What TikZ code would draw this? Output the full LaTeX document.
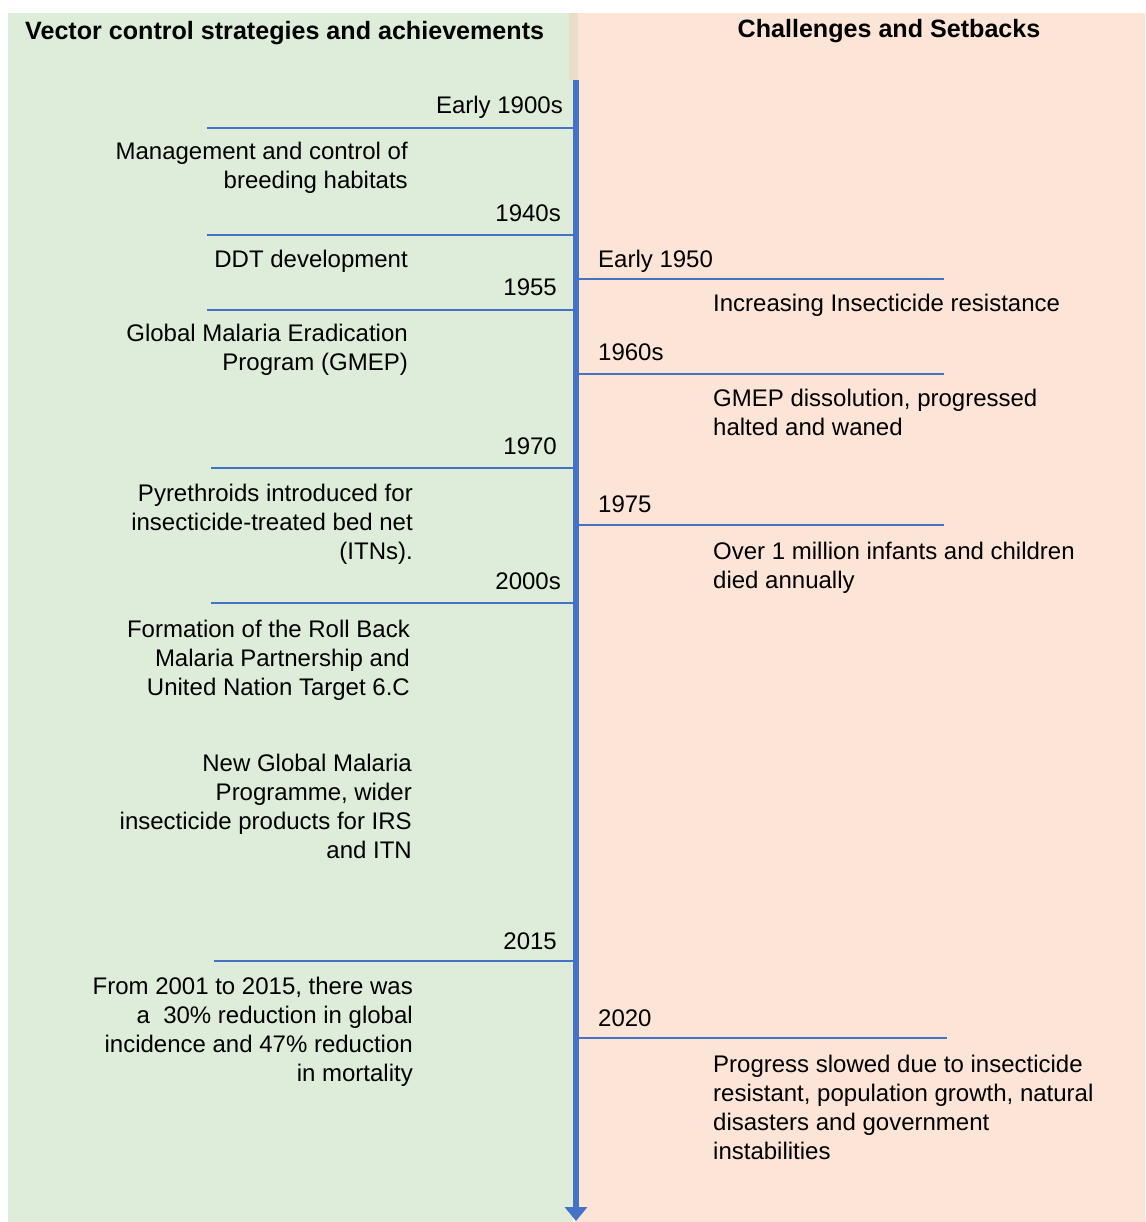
\documentclass[tikz,border=0pt]{standalone}
\usepackage{fontspec}
\setmainfont{Liberation Sans}
\usetikzlibrary{arrows.meta}
\definecolor{leftbg}{HTML}{DEEDDA}
\definecolor{rightbg}{HTML}{FCE4D6}
\definecolor{stripbg}{HTML}{E8DDC6}
\definecolor{axisblue}{HTML}{4472C4}
\tikzset{
  lbl/.style={font=\fontsize{24}{29}\selectfont, inner sep=0pt},
  head/.style={font=\fontsize{25.1}{29}\selectfont\bfseries, inner sep=0pt},
  ltxt/.style={lbl, align=right, anchor=north east},
  rtxt/.style={lbl, align=left, anchor=north west},
  lyear/.style={lbl, anchor=base east},
  ryear/.style={lbl, anchor=base west},
  tick/.style={draw=axisblue, line width=2.5pt},
  axisline/.style={draw=axisblue, line width=6pt, -{Triangle[width=22pt,length=14pt]}}
}
\begin{document}
\begin{tikzpicture}[x=1pt,y=-1pt]
\useasboundingbox (0,0) rectangle (1145,1222);
\fill[white] (0,0) rectangle (1145,1222);
\fill[leftbg] (8,13) rectangle (573,1222);
\fill[rightbg] (575,13) rectangle (1145,1222);
\fill[stripbg] (569,13) rectangle (578,80);

% headers
\node[head, anchor=base west] (hl) at (25,40) {Vector control strategies and achievements};
\node[head, anchor=base] (hr) at (889,38) {Challenges and Setbacks};

% ticks left
\coordinate (t1a) at (207,128); \coordinate (t1b) at (574,128);
\coordinate (t2a) at (207,235); \coordinate (t2b) at (574,235);
\coordinate (t3a) at (207,310); \coordinate (t3b) at (574,310);
\coordinate (t4a) at (211,468); \coordinate (t4b) at (574,468);
\coordinate (t5a) at (211,603); \coordinate (t5b) at (574,603);
\coordinate (t6a) at (214,961); \coordinate (t6b) at (574,961);
\foreach \i in {1,...,6} {\draw[tick] (t\i a) -- (t\i b);}

% ticks right
\coordinate (r1a) at (578,279); \coordinate (r1b) at (944,279);
\coordinate (r2a) at (578,374); \coordinate (r2b) at (944,374);
\coordinate (r3a) at (578,525); \coordinate (r3b) at (944,525);
\coordinate (r4a) at (578,1038); \coordinate (r4b) at (947,1038);
\foreach \i in {1,...,4} {\draw[tick] (r\i a) -- (r\i b);}

% axis
\coordinate (axtop) at (576,80);
\coordinate (axbot) at (576,1221);
\draw[axisline] (axtop) -- (axbot);

% left years
\node[lyear] (y1) at (563,114) {Early 1900s};
\node[lyear] (y2) at (561,222) {1940s};
\node[lyear] (y3) at (557,295) {1955};
\node[lyear] (y4) at (557,454) {1970};
\node[lyear] (y5) at (561,589) {2000s};
\node[lyear] (y6) at (557,949) {2015};

% left texts
\node[ltxt] (l1) at (408,142) {Management and control of\\breeding habitats};
\node[lyear] (l2) at (408,268) {DDT development};
\node[ltxt] (l3) at (408,324) {Global Malaria Eradication\\Program (GMEP)};
\node[ltxt] (l4) at (413,484) {Pyrethroids introduced for\\insecticide-treated bed net\\(ITNs).};
\node[ltxt] (l5) at (410,620) {Formation of the Roll Back\\Malaria Partnership and\\United Nation Target 6.C};
\node[ltxt] (l6) at (412,754) {New Global Malaria\\Programme, wider\\insecticide products for IRS\\and ITN};
\node[ltxt] (l7) at (413,977) {From 2001 to 2015, there was\\a\ \ 30\% reduction in global\\incidence and 47\% reduction\\in mortality};

% right years
\node[ryear] (ry1) at (598,268) {Early 1950};
\node[ryear] (ry2) at (598,360) {1960s};
\node[ryear] (ry3) at (598,512) {1975};
\node[ryear] (ry4) at (598,1026) {2020};

% right texts
\node[ryear] (rt1) at (713,312) {Increasing Insecticide resistance};
\node[rtxt] (rt2) at (713,389) {GMEP dissolution, progressed\\halted and waned};
\node[rtxt] (rt3) at (713,542) {Over 1 million infants and children\\died annually};
\node[rtxt] (rt4) at (713,1055) {Progress slowed due to insecticide\\resistant, population growth, natural\\disasters and government\\instabilities};
\end{tikzpicture}
\end{document}
